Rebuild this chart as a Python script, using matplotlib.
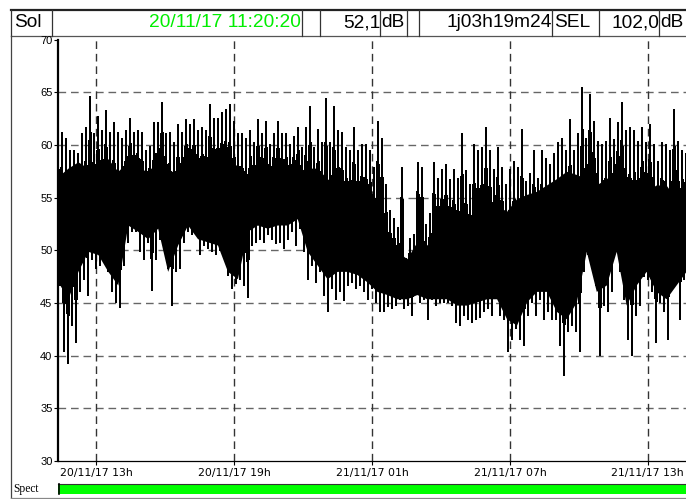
import numpy as np
import matplotlib
matplotlib.use("Agg")
import matplotlib.pyplot as plt

# ---- data ----
start_h = 11 + 20 / 60 + 20 / 3600          # 20/11/17 11:20:20
duration_h = 27 + 19 / 60 + 24 / 3600        # 1j03h19m24

# upper spike tops, left to right (dB)
peaks = [60.9, 61.1, 60.6, 59.4, 59.4, 59.1, 61.0, 61.6, 64.6, 61.0,
         62.7, 61.3, 63.2, 61.1, 62.1, 61.1, 60.6, 61.3, 62.5, 61.1,
         61.3, 61.1, 59.4, 59.8, 62.1, 62.1, 64.0, 61.0, 61.1, 60.2,
         61.9, 61.1, 62.4, 61.9, 62.4, 61.3, 61.6, 61.3, 63.8, 62.5,
         62.5, 63.0, 63.3, 63.8, 62.2, 61.0, 61.0, 60.6, 61.3, 60.2,
         62.4, 61.0, 62.2, 60.0, 61.0, 62.2, 61.0, 61.0, 60.0, 60.8,
         61.6, 59.7, 61.6, 63.6, 59.7, 61.4, 60.2, 64.4, 60.2, 63.6,
         61.3, 61.1, 59.7, 59.4, 61.6, 59.4, 60.0, 60.0, 59.4, 57.8,
         62.2, 60.6, 56.2, 53.7, 53.0, 52.1, 57.8, 49.2, 51.1, 51.5,
         58.3, 57.8, 52.4, 53.4, 58.3, 56.8, 57.6, 58.1, 56.7, 57.6,
         56.8, 61.0, 57.5, 56.2, 60.0, 59.4, 59.7, 61.6, 59.4, 57.6,
         59.7, 57.8, 56.2, 57.6, 58.4, 57.8, 61.4, 56.5, 57.2, 59.4,
         56.8, 59.4, 58.7, 58.1, 59.1, 60.2, 60.6, 59.4, 62.4, 59.4,
         61.0, 65.4, 60.6, 64.7, 62.2, 60.3, 60.0, 60.3, 62.5, 60.5,
         62.1, 64.0, 61.3, 61.6, 61.3, 60.3, 61.6, 60.2, 61.9, 60.0,
         58.4, 60.2, 60.0, 59.4, 63.3, 60.3, 59.4, 59.1]

# lower dips, left to right (dB)
dips = [46.7, 40.4, 39.3, 42.9, 41.3, 46.1, 47.3, 45.8, 49.2, 48.3,
        48.6, 49.2, 48.0, 46.1, 45.1, 44.6, 48.6, 50.8, 51.8, 51.8,
        49.9, 49.2, 50.8, 46.2, 49.2, 51.1, 51.5, 48.3, 44.8, 48.0,
        48.3, 50.8, 51.8, 51.5, 51.5, 49.6, 50.5, 50.2, 49.9, 49.6,
        50.0, 49.9, 47.7, 46.4, 46.9, 47.3, 46.7, 45.6, 50.5, 50.8,
        51.1, 50.8, 51.5, 51.1, 50.7, 50.8, 50.2, 51.1, 51.8, 50.5,
        52.1, 49.9, 47.3, 48.6, 47.0, 48.0, 45.8, 44.2, 46.4, 45.4,
        46.1, 45.3, 46.7, 47.0, 46.4, 46.7, 46.1, 45.4, 46.4, 45.1,
        44.2, 44.2, 44.7, 44.5, 44.8, 45.4, 44.5, 44.8, 43.9, 46.1,
        45.1, 45.4, 43.5, 45.4, 44.8, 45.1, 45.1, 45.1, 44.8, 43.2,
        42.9, 43.9, 43.5, 43.2, 43.5, 43.7, 44.2, 44.5, 43.9, 47.0,
        43.9, 43.5, 40.4, 41.6, 42.6, 41.6, 41.0, 43.9, 45.1, 43.9,
        45.4, 43.5, 44.2, 43.5, 43.5, 41.0, 38.2, 42.3, 42.9, 42.3,
        40.4, 48.0, 49.6, 49.2, 46.7, 40.1, 44.8, 44.2, 46.1, 49.9,
        48.0, 45.4, 41.6, 40.1, 43.9, 44.8, 47.6, 47.3, 46.1, 41.3,
        45.1, 44.2, 41.6, 46.7, 48.0, 43.5, 47.3, 48.6]

# solid black band of the trace (dB)
core_hi = [57.0, 57.8, 58.4, 57.8, 58.1, 58.7, 57.5, 58.4, 57.8, 57.5,
           58.4, 57.5, 57.5, 58.1, 57.8, 57.8, 58.4, 58.1, 58.1, 56.8,
           57.8, 57.5, 57.5, 57.2, 57.5, 57.8, 57.8, 56.8, 56.2, 56.2,
           55.6, 55.3, 54.3, 50.5, 49.9, 49.2, 50.8, 50.5, 51.8, 52.1,
           52.4, 52.4, 53.7, 54.6, 54.3, 53.7, 54.9, 55.3, 55.6, 56.2,
           56.8, 57.5, 57.2, 56.8, 56.2, 56.8, 57.5, 56.2, 55.3, 55.6,
           56.2, 56.2, 54.9, 55.3]
core_lo = [47.0, 45.4, 48.0, 49.9, 49.6, 48.0, 46.7, 52.4, 51.8, 51.1,
           52.1, 48.0, 50.5, 52.4, 51.1, 50.8, 50.5, 48.0, 47.3, 51.8,
           52.4, 52.1, 52.4, 52.4, 53.0, 49.9, 48.6, 47.3, 48.0, 48.0,
           47.7, 47.0, 46.1, 45.8, 45.4, 45.4, 45.8, 45.4, 45.4, 45.4,
           44.8, 44.8, 45.1, 45.4, 45.4, 43.5, 42.9, 45.1, 46.1, 46.1,
           44.2, 43.5, 45.1, 49.9, 46.1, 46.7, 49.9, 44.8, 46.7, 48.0,
           46.1, 45.4, 46.7, 48.0]

tick_hours = [13, 19, 25, 31, 37]
tick_labels = ["20/11/17 13h", "20/11/17 19h", "21/11/17 01h",
               "21/11/17 07h", "21/11/17 13h"]
y_ticks = [30, 35, 40, 45, 50, 55, 60, 65, 70]

header = [("Sol", 14, "left", "black"),
          ("20/11/17 11:20:20", 301, "right", "#00ee00"),
          ("52,1", 380, "right", "black"),
          ("dB", 381, "left", "black"),
          ("1j03h19m24", 552, "right", "black"),
          ("SEL", 554, "left", "black"),
          ("102,0", 659, "right", "black"),
          ("dB", 660, "left", "black")]
separators = [11, 52, 302, 320, 380, 407, 419, 552, 599, 659]

# ---- series: alternate tops and dips ----
n = len(peaks)
t_peak = start_h + np.linspace(0, duration_h, n)
half = duration_h / (n - 1) / 2
t = np.empty(2 * n)
v = np.empty(2 * n)
t[0::2], t[1::2] = t_peak, t_peak + half
v[0::2], v[1::2] = peaks, dips
t, v = t[:-1], v[:-1]
t_core = start_h + np.linspace(0, duration_h, len(core_hi))

W, H = 686, 499
fig = plt.figure(figsize=(W / 100, H / 100), dpi=100)
fig.patch.set_facecolor("white")

ax = fig.add_axes([58 / W, 38 / H, 1 - 58 / W, (461 - 39.6) / H])
ax.set_xlim(start_h, start_h + duration_h)
ax.set_ylim(30, 70)

for yy in y_ticks[1:-1]:
    ax.axhline(yy, color="#666666", lw=1.0, dashes=(5.5, 3.5), zorder=1)
for xx in tick_hours:
    ax.axvline(xx, color="#333333", lw=1.0, dashes=(5.5, 3.5), zorder=1)

ax.fill_between(t_core, core_lo, core_hi, color="black", lw=0, zorder=2)
ax.plot(t, v, color="black", lw=0.8, antialiased=False, zorder=2)

ax.set_xticks(tick_hours)
ax.set_xticklabels(tick_labels, fontsize=7.8, family="DejaVu Sans")
ax.set_yticks(y_ticks)
ax.set_yticklabels([str(y) for y in y_ticks], fontsize=8, family="Liberation Sans")
ax.tick_params(axis="both", direction="out", length=3, width=0.8, pad=2)
ax.tick_params(axis="y", pad=1)
for s in ("top", "right"):
    ax.spines[s].set_visible(False)
ax.spines["left"].set_linewidth(1.6)
ax.spines["bottom"].set_linewidth(0.9)

# ---- header, frame and "Spect" row in pixel coordinates ----
fr = fig.add_axes([0, 0, 1, 1], zorder=-1)
fr.set_xlim(0, W)
fr.set_ylim(H, 0)
fr.axis("off")
fr.plot([11, W], [9.5, 9.5], color="#222222", lw=1.6)
fr.plot([11, W], [35.5, 35.5], color="#555555", lw=0.9)
for sx in separators:
    fr.plot([sx, sx], [9.5, 35.5], color="#333333", lw=0.9)
for txt, x, ha, col in header:
    fr.text(x, 22.5, txt, ha=ha, va="center", fontsize=13.8, color=col,
            family="Liberation Sans")

fr.plot([11, 11], [35.5, 498], color="#444444", lw=0.9)
fr.plot([11, W], [497.5, 497.5], color="#888888", lw=0.9)
fr.text(13, 489, "Spect", ha="left", va="center", fontsize=8.3,
        family="Liberation Serif")
fr.add_patch(plt.Rectangle((58, 484), W - 58, 10, facecolor="#00ff00",
                           edgecolor="none"))
fr.plot([58, W], [484, 484], color="#333333", lw=0.8)
fr.plot([58.5, 58.5], [484, 494], color="black", lw=1.2)

fig.savefig("out.png", dpi=100)
